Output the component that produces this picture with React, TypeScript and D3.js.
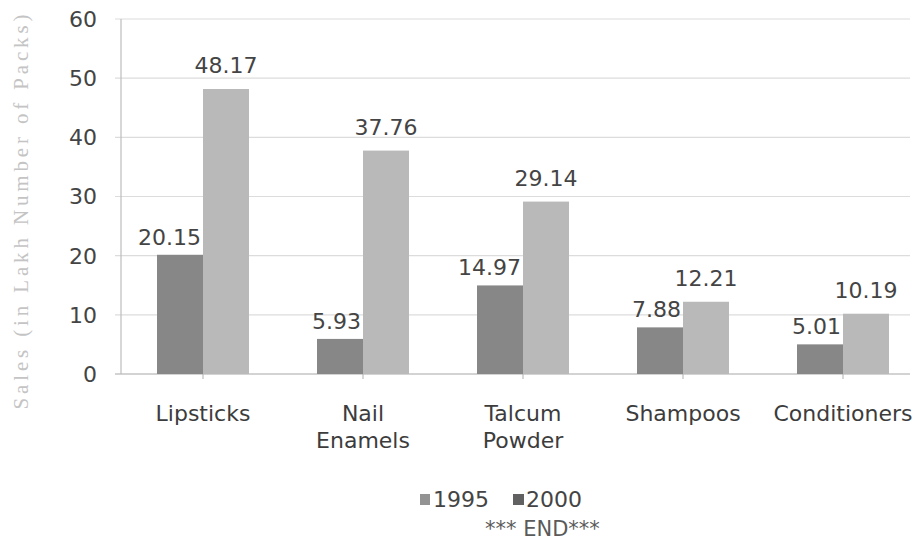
import React from "react";
import * as d3 from "d3";

const categories: string[][] = [
  ["Lipsticks"],
  ["Nail", "Enamels"],
  ["Talcum", "Powder"],
  ["Shampoos"],
  ["Conditioners"],
];
const seriesNames = ["1995", "2000"];
const values1995 = [20.15, 5.93, 14.97, 7.88, 5.01];
const values2000 = [48.17, 37.76, 29.14, 12.21, 10.19];
const yTicks = [0, 10, 20, 30, 40, 50, 60];

const W = 923;
const H = 550;
const FONT = "'DejaVu Sans', Verdana, sans-serif";

export default function App() {
  const keys = categories.map((c) => c.join(" "));
  const x = d3.scaleBand<string>().domain(keys).range([123, 923]).paddingInner(0.425).paddingOuter(0.2125);
  const xs = d3.scaleBand<string>().domain(seriesNames).range([0, x.bandwidth()]).padding(0);
  const y = d3.scaleLinear().domain([0, 60]).range([374, 19]);
  const barColors = ["#878787", "#b9b9b9"];
  const legendColors = ["#939393", "#616161"];
  const series = [values1995, values2000];
  const axisX = 121;
  const gridRight = 910;

  return (
    <svg width={W} height={H} style={{ position: "absolute", left: 0, top: 0, background: "#fff" }}>
      {yTicks.map((t) => (
        <line key={"g" + t} x1={axisX - 6} x2={gridRight} y1={y(t)} y2={y(t)} stroke={t === 0 ? "#a8a8a8" : "#dcdcdc"} strokeWidth={1.2} />
      ))}
      <line x1={axisX} x2={axisX} y1={y(60)} y2={y(0)} stroke="#bdbdbd" strokeWidth={1.2} />
      {yTicks.map((t) => (
        <text key={"t" + t} x={97} y={y(t)} dy="0.36em" textAnchor="end" fontFamily={FONT} fontSize={22} fill="#444">
          {t}
        </text>
      ))}
      <text
        transform={`translate(28, ${212}) rotate(-90)`}
        textAnchor="middle"
        fontFamily="'Liberation Serif', 'DejaVu Serif', serif"
        fontSize={21}
        fill="#c4c4c4"
        textLength={395}
        lengthAdjust="spacing"
      >
        Sales (in Lakh Number of Packs)
      </text>
      {keys.map((k, i) => (
        <g key={k} transform={`translate(${x(k)},0)`}>
          {seriesNames.map((s, j) => {
            const v = series[j][i];
            return (
              <rect key={s} x={xs(s)} y={y(v)} width={xs.bandwidth()} height={y(0) - y(v)} fill={barColors[j]} />
            );
          })}
          <line x1={x.bandwidth() / 2} x2={x.bandwidth() / 2} y1={y(0)} y2={y(0) + 5} stroke="#b0b0b0" />
          <text
            x={(xs("1995") as number) + xs.bandwidth() - 2}
            y={y(series[0][i]) - 10}
            textAnchor="end"
            fontFamily={FONT}
            fontSize={22}
            fill="#444"
          >
            {series[0][i].toFixed(2)}
          </text>
          <text
            x={(xs("2000") as number) + xs.bandwidth() / 2}
            y={y(series[1][i]) - 16}
            textAnchor="middle"
            fontFamily={FONT}
            fontSize={22}
            fill="#444"
          >
            {series[1][i].toFixed(2)}
          </text>
          <text x={x.bandwidth() / 2} y={421} textAnchor="middle" fontFamily={FONT} fontSize={22} fill="#3c3c3c">
            {categories[i].map((line, li) => (
              <tspan key={li} x={x.bandwidth() / 2} dy={li === 0 ? 0 : 27}>
                {line}
              </tspan>
            ))}
          </text>
        </g>
      ))}
      <g>
        <rect x={420} y={494} width={10} height={11} fill={legendColors[0]} />
        <text x={433} y={507} fontFamily={FONT} fontSize={22} fill="#444">{seriesNames[0]}</text>
        <rect x={513} y={494} width={11} height={11} fill={legendColors[1]} />
        <text x={526} y={507} fontFamily={FONT} fontSize={22} fill="#444">{seriesNames[1]}</text>
      </g>
      <text x={485} y={536} fontFamily={FONT} fontSize={21} fill="#5a5a5a">
        *** END***
      </text>
    </svg>
  );
}
